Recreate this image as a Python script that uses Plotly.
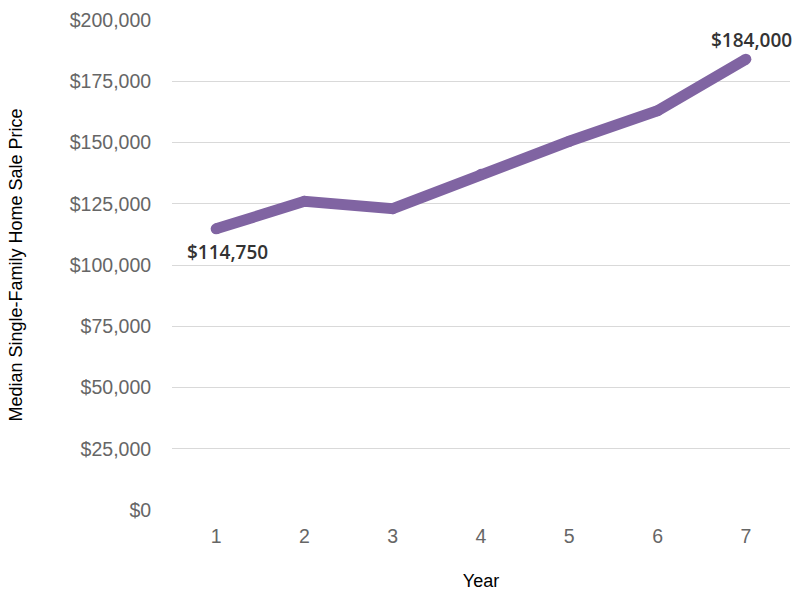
import plotly.graph_objects as go

years = [1, 2, 3, 4, 5, 6, 7]
prices = [114750, 126000, 123000, 137000, 150500, 163000, 184000]
y_ticks = [0, 25000, 50000, 75000, 100000, 125000, 150000, 175000, 200000]
y_tick_text = ["$" + format(v, ",") for v in y_ticks]
line_color = "#8064A2"

fig = go.Figure()
fig.add_trace(go.Scatter(
    x=years, y=prices, mode="lines+markers",
    line=dict(color=line_color, width=11),
    marker=dict(color=line_color, size=11),
    hoverinfo="skip", showlegend=False,
))

ann_font = dict(family="Open Sans, Liberation Sans, Arial", size=19, color="#333333", weight=600)
fig.add_annotation(x=years[0], y=prices[0], text="$" + format(prices[0], ","),
                   showarrow=False, yshift=-23, xshift=11, font=ann_font)
fig.add_annotation(x=years[-1], y=prices[-1], text="$" + format(prices[-1], ","),
                   showarrow=False, yshift=19, xshift=6, font=ann_font)

fig.update_layout(
    width=796, height=591,
    margin=dict(l=172, r=6, t=20, b=81),
    plot_bgcolor="white", paper_bgcolor="white",
    font=dict(family="Liberation Sans, Arial", color="#666666", size=19.5),
)
fig.update_xaxes(
    range=[0.5, 7.5], tickvals=years, ticktext=[str(y) for y in years],
    showgrid=False, zeroline=False, showline=False, automargin=False,
    ticks="outside", ticklen=9, tickcolor="rgba(0,0,0,0)",
    title=dict(text="Year", font=dict(size=18, color="#000000"), standoff=27),
    tickfont=dict(size=19.5, color="#666666"),
)
fig.update_yaxes(
    range=[0, 200000], tickvals=y_ticks, ticktext=y_tick_text,
    showgrid=True, gridcolor="#D9D9D9", gridwidth=1,
    zeroline=False, showline=False, automargin=False,
    ticks="outside", ticklen=16, tickcolor="rgba(0,0,0,0)",
    title=dict(text="Median Single-Family Home Sale Price", font=dict(size=18, color="#000000"), standoff=42),
    tickfont=dict(size=19.5, color="#666666"),
)

fig.write_html("out.html")
